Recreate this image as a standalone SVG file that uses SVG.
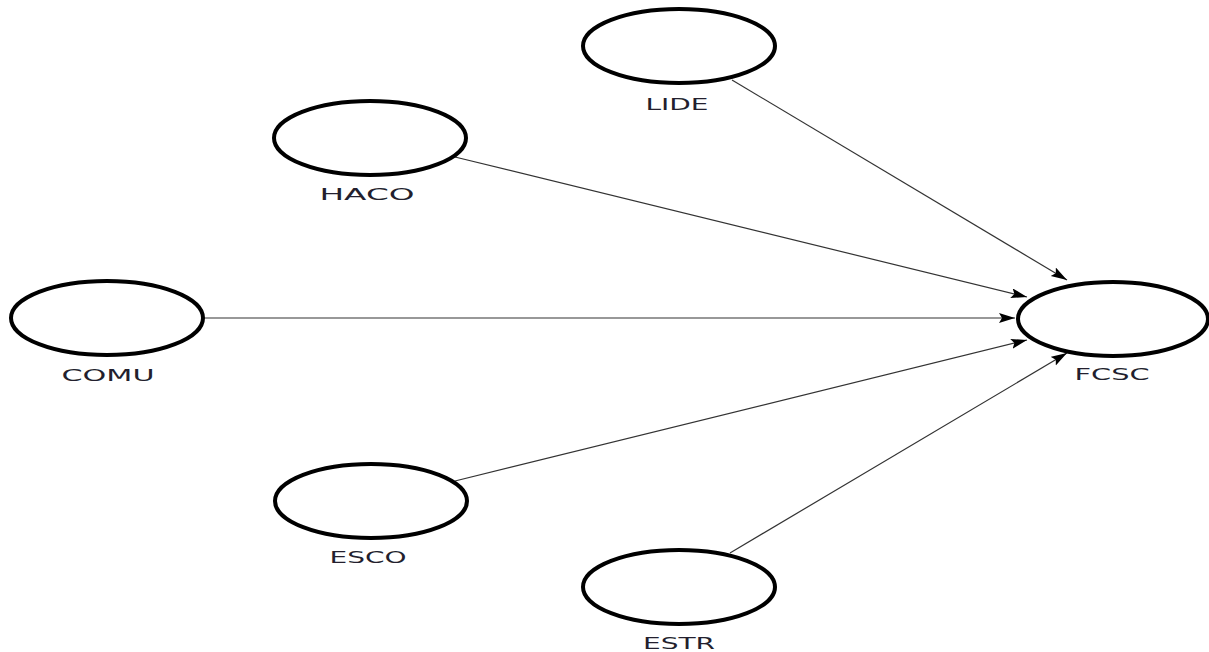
<svg xmlns="http://www.w3.org/2000/svg" width="1209" height="652" viewBox="0 0 1209 652">
<style>
.node ellipse{fill:#fff;stroke:#000;stroke-width:4}
.node text{font-family:"DejaVu Sans","Liberation Sans",sans-serif;font-size:16px;fill:#231f2e;text-anchor:middle}
.edges line{stroke:#333;stroke-width:1.2}
</style>
<defs>
<marker id="arr" markerUnits="userSpaceOnUse" markerWidth="18" markerHeight="12" refX="16" refY="5" orient="auto">
<path d="M0,0 L16,5 L0,10 L3,5 Z" fill="#000"/>
</marker>
</defs>
<rect width="1209" height="652" fill="#fff"/>
<g class="edges">
<line x1="732" y1="80" x2="1067" y2="280" marker-end="url(#arr)"/>
<line x1="455" y1="157" x2="1027" y2="297" marker-end="url(#arr)"/>
<line x1="203" y1="318" x2="1015" y2="318" marker-end="url(#arr)"/>
<line x1="455" y1="481" x2="1027" y2="340" marker-end="url(#arr)"/>
<line x1="730" y1="553" x2="1067" y2="353" marker-end="url(#arr)"/>
</g>
<g id="LIDE" class="node"><ellipse cx="679" cy="46" rx="96" ry="37"/><text x="677" y="110" textLength="63" lengthAdjust="spacingAndGlyphs">LIDE</text></g>
<g id="HACO" class="node"><ellipse cx="370" cy="138" rx="96" ry="37"/><text x="367" y="200" textLength="95" lengthAdjust="spacingAndGlyphs">HACO</text></g>
<g id="COMU" class="node"><ellipse cx="107" cy="318" rx="96" ry="37"/><text x="108" y="381" textLength="93" lengthAdjust="spacingAndGlyphs">COMU</text></g>
<g id="ESCO" class="node"><ellipse cx="371" cy="501" rx="96" ry="37"/><text x="368" y="563" textLength="77" lengthAdjust="spacingAndGlyphs">ESCO</text></g>
<g id="ESTR" class="node"><ellipse cx="679" cy="587" rx="96" ry="37"/><text x="679" y="649" textLength="72" lengthAdjust="spacingAndGlyphs">ESTR</text></g>
<g id="FCSC" class="node"><ellipse cx="1113" cy="319" rx="95" ry="37"/><text x="1112" y="380" textLength="75" lengthAdjust="spacingAndGlyphs">FCSC</text></g>
</svg>
